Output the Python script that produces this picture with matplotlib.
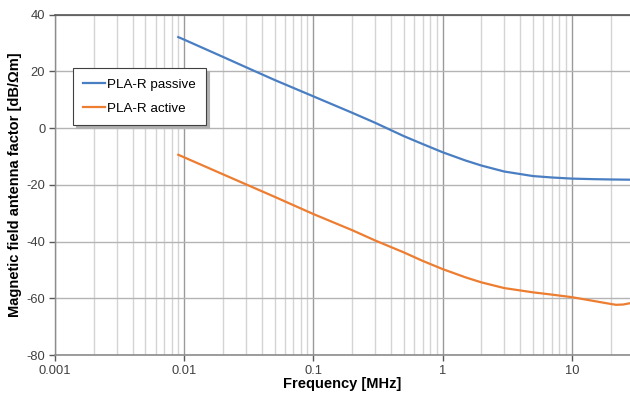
import numpy as np
import matplotlib
matplotlib.use('Agg')
import matplotlib.pyplot as plt
from matplotlib.ticker import LogLocator, FixedLocator, FuncFormatter

plt.rcParams['font.family'] = ['Liberation Sans', 'DejaVu Sans']
plt.rcParams['axes.unicode_minus'] = False

# frequency in MHz
freq_passive = [0.009, 0.01, 0.02, 0.03, 0.05, 0.1, 0.2, 0.3, 0.5, 0.7, 1, 1.5, 2, 3, 5, 7, 10, 15, 20, 30]
passive = [32.1, 31.2, 25.1, 21.5, 17.0, 11.2, 5.4, 1.9, -2.8, -5.6, -8.5, -11.4, -13.2, -15.3, -16.9, -17.4,
           -17.8, -18.0, -18.1, -18.2]

freq_active = [0.009, 0.01, 0.02, 0.03, 0.05, 0.1, 0.2, 0.3, 0.5, 0.7, 1, 1.5, 2, 3, 5, 7, 10, 15, 20, 22, 25, 30]
active = [-9.4, -10.3, -16.3, -19.8, -24.2, -30.3, -36.0, -39.6, -43.8, -46.8, -49.7, -52.6, -54.4, -56.4,
          -57.9, -58.7, -59.6, -61.0, -62.0, -62.3, -62.2, -61.5]

labels = ['PLA-R passive', 'PLA-R active']
colors = ['#4A7EC2', '#ED7D31']
y_ticks = [-80, -60, -40, -20, 0, 20, 40]
x_ticks = [0.001, 0.01, 0.1, 1, 10]
x_ticklabels = ['0.001', '0.01', '0.1', '1', '10']

fig = plt.figure(figsize=(6.3, 4.01), dpi=100)
ax = fig.add_axes([55 / 630, 1 - 355 / 401, 575 / 630, 340.3 / 401])

ax.plot(freq_passive, passive, color=colors[0], lw=1.6, label=labels[0], zorder=3)
ax.plot(freq_active, active, color=colors[1], lw=1.6, label=labels[1], zorder=3)

ax.set_xscale('log')
ax.set_xlim(0.001, 10 ** ((630 - 55) / 129.2 - 3))
ax.set_ylim(-80, 40)

ax.xaxis.set_major_locator(FixedLocator(x_ticks))
ax.xaxis.set_major_formatter(FuncFormatter(lambda v, p: x_ticklabels[x_ticks.index(v)] if v in x_ticks else ''))
ax.xaxis.set_minor_locator(LogLocator(base=10, subs=np.arange(2, 10), numticks=20))
ax.xaxis.set_minor_formatter(FuncFormatter(lambda v, p: ''))
ax.set_yticks(y_ticks)

ax.grid(True, which='major', axis='x', color='#9a9a9a', lw=1.0)
ax.grid(True, which='minor', axis='x', color='#d4d4d4', lw=1.0)
ax.grid(True, which='major', axis='y', color='#b4b4b4', lw=1.0)
ax.set_axisbelow(True)

ax.tick_params(axis='both', which='major', labelsize=9.3, colors='#595959', labelcolor='#404040',
               length=4, width=1, pad=3)
ax.tick_params(axis='x', which='minor', length=0)

ax.spines['right'].set_visible(False)
ax.spines['top'].set_color('#555555')
ax.spines['top'].set_linewidth(1.2)
ax.spines['bottom'].set_color('#8c8c8c')
ax.spines['bottom'].set_linewidth(1.2)
ax.spines['left'].set_color('#8c8c8c')
ax.spines['left'].set_linewidth(1.0)

ax.set_xlabel('Frequency [MHz]', fontsize=10.5, fontweight='bold')
ax.set_ylabel('Magnetic field antenna factor [dB/\u03a9m]', fontsize=10.5, fontweight='bold')
ax.xaxis.set_label_coords((342 - 55) / 575, -(384 - 355) / 340.3)
ax.yaxis.set_label_coords(-(55 - 15) / 575, (355 - 185) / 340.3)
ax.xaxis.label.set_va('center')
ax.yaxis.label.set_va('center')

leg = ax.legend(loc='upper left', bbox_to_anchor=(0.031, 0.843), fontsize=9.6, frameon=True,
                fancybox=False, shadow={'color': '#b0b0b0', 'alpha': 1.0}, edgecolor='#404040',
                handlelength=1.6, handletextpad=0.15, labelspacing=0.85, borderpad=0.8, borderaxespad=0)
leg.get_frame().set_linewidth(0.8)

fig.savefig('out.png', dpi=100)
